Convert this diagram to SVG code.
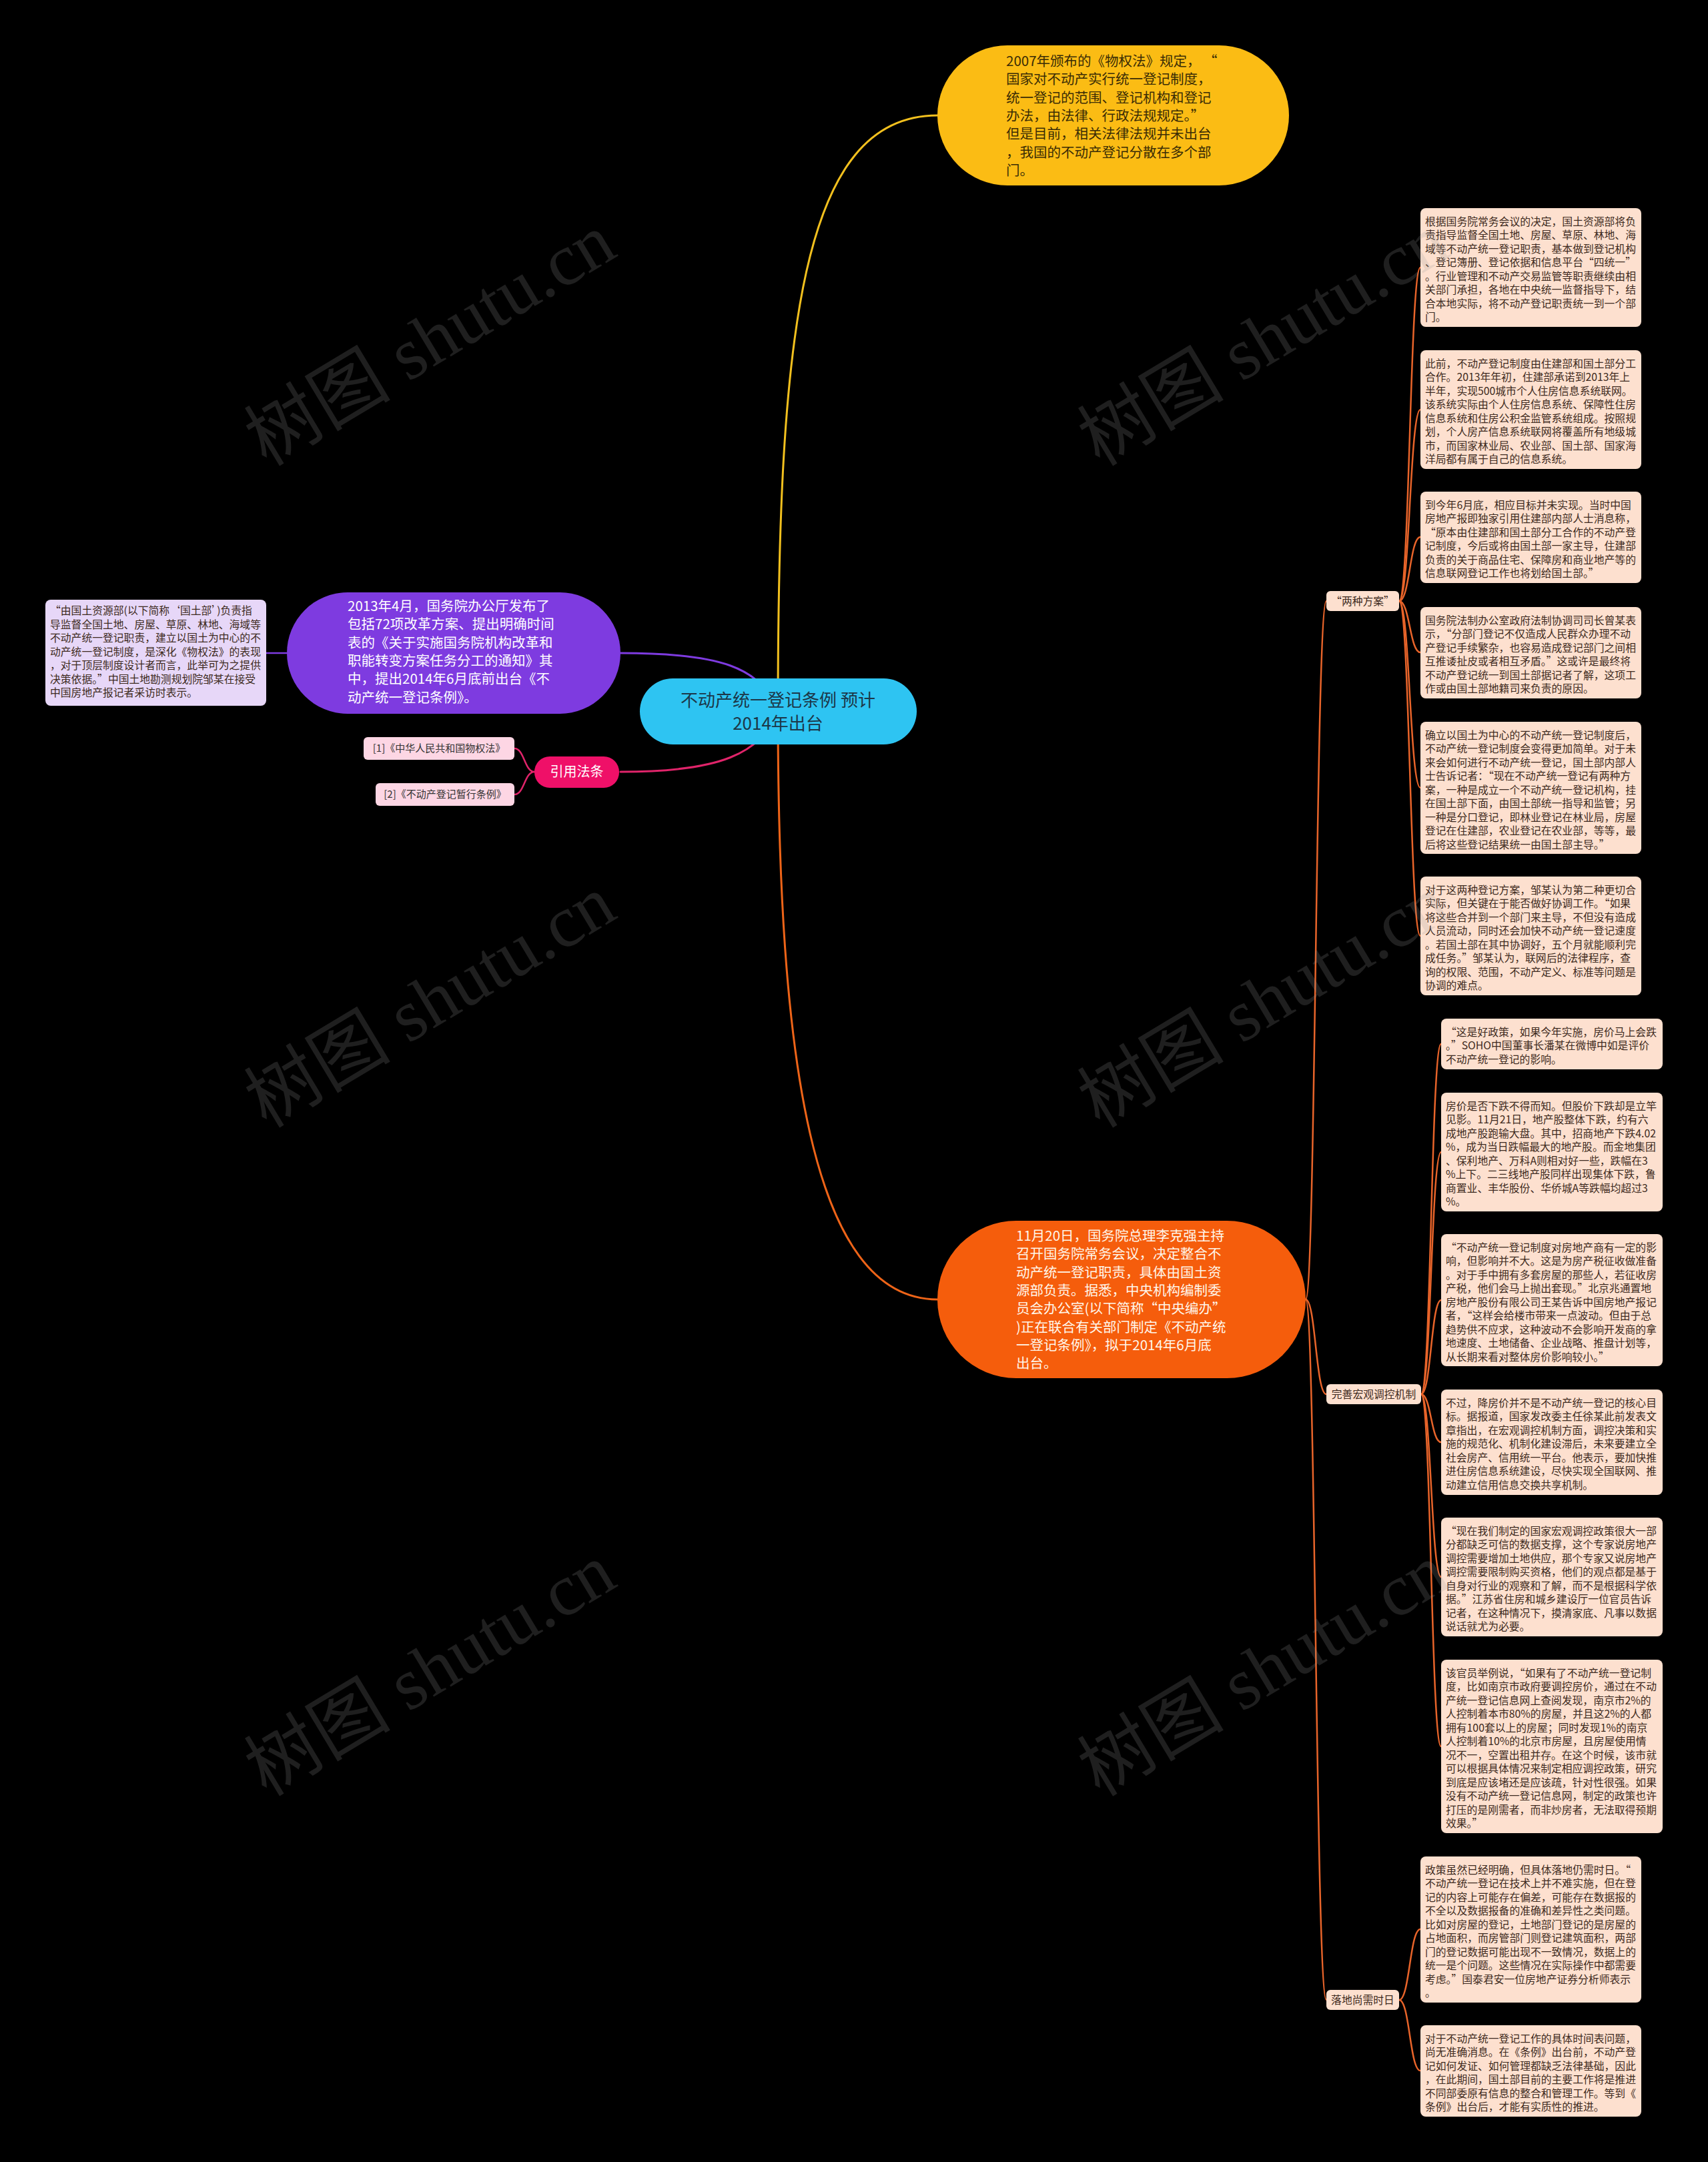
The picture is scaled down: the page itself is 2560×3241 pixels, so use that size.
<svg xmlns="http://www.w3.org/2000/svg" width="2560" height="3241" viewBox="0 0 2560 3241">
<style>
.cjk{font-family:"Noto Sans CJK SC","Noto Sans",sans-serif;}
.nt{font-family:"Noto Sans CJK SC","Noto Sans",sans-serif;font-size:15.8px;fill:#3d2a20;}
.note{fill:#fde0cf;}
.big{font-family:"Noto Sans CJK SC","Noto Sans",sans-serif;font-size:20.5px;}
.wm{font-family:"Liberation Serif","Noto Sans CJK SC",serif;font-size:110px;fill:#9a9a9a;fill-opacity:0.2;}
.c{fill:none;stroke-linecap:round;}
.co{stroke:#e8642a;stroke-width:2.5;}
</style>
<rect x="0" y="0" width="2560" height="3241" fill="#000000"/>

<g id="connectors">
<path class="c" d="M1166 1066 C1166 500,1200 173,1405 173" stroke="#f2c01e" stroke-width="3"/>
<path class="c" d="M1166 1066 C1166 1580,1215 1948,1405 1948" stroke="#ee6418" stroke-width="3"/>
<path class="c" d="M930 979 C1080 979,1140 1000,1166 1066" stroke="#7e3be0" stroke-width="3"/>
<path class="c" d="M930 1157 C1080 1157,1140 1130,1166 1066" stroke="#e0246a" stroke-width="3"/>
<path class="c" d="M399 979 L430 979" stroke="#7e3be0" stroke-width="2.5"/>
<path class="c" d="M801 1157 C786 1157,786 1122,771 1122" stroke="#e0246a" stroke-width="2.5"/>
<path class="c" d="M801 1157 C786 1157,786 1191,771 1191" stroke="#e0246a" stroke-width="2.5"/>
<path class="c co" d="M1957 1948 C1972 1948,1972 901,1988 901"/>
<path class="c co" d="M1957 1948 C1972 1948,1972 2090,1988 2090"/>
<path class="c co" d="M1957 1948 C1972 1948,1972 2998,1988 2998"/>
<path class="c co" d="M2097 901 C2113 901,2113 401,2129 401"/>
<path class="c co" d="M2097 901 C2113 901,2113 614,2129 614"/>
<path class="c co" d="M2097 901 C2113 901,2113 805,2129 805"/>
<path class="c co" d="M2097 901 C2113 901,2113 978,2129 978"/>
<path class="c co" d="M2097 901 C2113 901,2113 1181,2129 1181"/>
<path class="c co" d="M2097 901 C2113 901,2113 1403,2129 1403"/>
<path class="c co" d="M2130 2090 C2145 2090,2145 1565,2160 1565"/>
<path class="c co" d="M2130 2090 C2145 2090,2145 1727,2160 1727"/>
<path class="c co" d="M2130 2090 C2145 2090,2145 1949,2160 1949"/>
<path class="c co" d="M2130 2090 C2145 2090,2145 2162,2160 2162"/>
<path class="c co" d="M2130 2090 C2145 2090,2145 2364,2160 2364"/>
<path class="c co" d="M2130 2090 C2145 2090,2145 2618,2160 2618"/>
<path class="c co" d="M2097 2998 C2113 2998,2113 2892,2129 2892"/>
<path class="c co" d="M2097 2998 C2113 2998,2113 3104,2129 3104"/>
</g>

<g id="node-center">
<rect x="959" y="1017" width="415" height="99" rx="49.5" fill="#2ec4f2"/>
<text class="cjk" x="1166" y="1059" font-size="26" fill="#1c3748" text-anchor="middle">不动产统一登记条例 预计</text>
<text class="cjk" x="1166" y="1094" font-size="26" fill="#1c3748" text-anchor="middle">2014年出台</text>
</g>

<g id="node-yellow">
<rect x="1405" y="68" width="527" height="210" rx="105" fill="#fbbc14"/>
<text class="big" fill="#3a2c05" x="1508" y="99">
<tspan x="1508">2007年颁布的《物权法》规定，  “</tspan>
<tspan x="1508" dy="27.3">国家对不动产实行统一登记制度，</tspan>
<tspan x="1508" dy="27.3">统一登记的范围、登记机构和登记</tspan>
<tspan x="1508" dy="27.3">办法，由法律、行政法规规定。”</tspan>
<tspan x="1508" dy="27.3">但是目前，相关法律法规并未出台</tspan>
<tspan x="1508" dy="27.3">，我国的不动产登记分散在多个部</tspan>
<tspan x="1508" dy="27.3">门。</tspan>
</text>
</g>

<g id="node-purple">
<rect x="430" y="888" width="500" height="182" rx="91" fill="#7e3be0"/>
<text class="big" fill="#ffffff" x="521" y="916">
<tspan x="521">2013年4月，国务院办公厅发布了</tspan>
<tspan x="521" dy="27.3">包括72项改革方案、提出明确时间</tspan>
<tspan x="521" dy="27.3">表的《关于实施国务院机构改革和</tspan>
<tspan x="521" dy="27.3">职能转变方案任务分工的通知》其</tspan>
<tspan x="521" dy="27.3">中，提出2014年6月底前出台《不</tspan>
<tspan x="521" dy="27.3">动产统一登记条例》。</tspan>
</text>
</g>

<g id="node-left-note">
<rect x="68" y="899" width="331" height="159" rx="8" fill="#e7d7f8"/>
<text class="nt" x="75" y="921">
<tspan x="75">“由国土资源部(以下简称‘国土部’)负责指</tspan>
<tspan x="75" dy="20.5">导监督全国土地、房屋、草原、林地、海域等</tspan>
<tspan x="75" dy="20.5">不动产统一登记职责，建立以国土为中心的不</tspan>
<tspan x="75" dy="20.5">动产统一登记制度，是深化《物权法》的表现</tspan>
<tspan x="75" dy="20.5">，对于顶层制度设计者而言，此举可为之提供</tspan>
<tspan x="75" dy="20.5">决策依据。”中国土地勘测规划院邹某在接受</tspan>
<tspan x="75" dy="20.5">中国房地产报记者采访时表示。</tspan>
</text>
</g>

<g id="node-cite">
<rect x="801" y="1134" width="127" height="47" rx="23" fill="#ef1068"/>
<text class="cjk" x="864.5" y="1164" font-size="20" fill="#ffffff" text-anchor="middle">引用法条</text>
</g>
<g id="node-cite-1">
<rect x="545" y="1105" width="226" height="34" rx="6" fill="#fdd6e4"/>
<text class="cjk" x="658" y="1127" font-size="15" fill="#333333" text-anchor="middle">[1]《中华人民共和国物权法》</text>
</g>
<g id="node-cite-2">
<rect x="563" y="1174" width="208" height="34" rx="6" fill="#fdd6e4"/>
<text class="cjk" x="667" y="1196" font-size="15" fill="#333333" text-anchor="middle">[2]《不动产登记暂行条例》</text>
</g>

<g id="node-orange">
<rect x="1405" y="1830" width="552" height="236" rx="118" fill="#f55d0c"/>
<text class="big" fill="#fff6ea" x="1523" y="1860">
<tspan x="1523">11月20日，国务院总理李克强主持</tspan>
<tspan x="1523" dy="27.3">召开国务院常务会议，决定整合不</tspan>
<tspan x="1523" dy="27.3">动产统一登记职责，具体由国土资</tspan>
<tspan x="1523" dy="27.3">源部负责。据悉，中央机构编制委</tspan>
<tspan x="1523" dy="27.3">员会办公室(以下简称“中央编办”</tspan>
<tspan x="1523" dy="27.3">)正在联合有关部门制定《不动产统</tspan>
<tspan x="1523" dy="27.3">一登记条例》，拟于2014年6月底</tspan>
<tspan x="1523" dy="27.3">出台。</tspan>
</text>
</g>

<g id="label-1">
<rect class="note" x="1988" y="886" width="109" height="30" rx="6"/>
<text class="nt" x="2042.5" y="906.5" text-anchor="middle">“两种方案”</text>
</g>
<g id="label-2">
<rect class="note" x="1988" y="2075" width="142" height="30" rx="6"/>
<text class="nt" x="2059" y="2095.5" text-anchor="middle">完善宏观调控机制</text>
</g>
<g id="label-3">
<rect class="note" x="1988" y="2983" width="109" height="30" rx="6"/>
<text class="nt" x="2042.5" y="3003.5" text-anchor="middle">落地尚需时日</text>
</g>

<g id="note-1-1">
<rect class="note" x="2129" y="312" width="331" height="178" rx="8"/>
<text class="nt" x="2136" y="337.5">
<tspan x="2136">根据国务院常务会议的决定，国土资源部将负</tspan>
<tspan x="2136" dy="20.5">责指导监督全国土地、房屋、草原、林地、海</tspan>
<tspan x="2136" dy="20.5">域等不动产统一登记职责，基本做到登记机构</tspan>
<tspan x="2136" dy="20.5">、登记簿册、登记依据和信息平台“四统一”</tspan>
<tspan x="2136" dy="20.5">。行业管理和不动产交易监管等职责继续由相</tspan>
<tspan x="2136" dy="20.5">关部门承担，各地在中央统一监督指导下，结</tspan>
<tspan x="2136" dy="20.5">合本地实际，将不动产登记职责统一到一个部</tspan>
<tspan x="2136" dy="20.5">门。</tspan>
</text>
</g>
<g id="note-1-2">
<rect class="note" x="2129" y="525" width="331" height="178" rx="8"/>
<text class="nt" x="2136" y="550.5">
<tspan x="2136">此前，不动产登记制度由住建部和国土部分工</tspan>
<tspan x="2136" dy="20.5">合作。2013年年初，住建部承诺到2013年上</tspan>
<tspan x="2136" dy="20.5">半年，实现500城市个人住房信息系统联网。</tspan>
<tspan x="2136" dy="20.5">该系统实际由个人住房信息系统、保障性住房</tspan>
<tspan x="2136" dy="20.5">信息系统和住房公积金监管系统组成。按照规</tspan>
<tspan x="2136" dy="20.5">划，个人房产信息系统联网将覆盖所有地级城</tspan>
<tspan x="2136" dy="20.5">市，而国家林业局、农业部、国土部、国家海</tspan>
<tspan x="2136" dy="20.5">洋局都有属于自己的信息系统。</tspan>
</text>
</g>
<g id="note-1-3">
<rect class="note" x="2129" y="737" width="331" height="137" rx="8"/>
<text class="nt" x="2136" y="762.5">
<tspan x="2136">到今年6月底，相应目标并未实现。当时中国</tspan>
<tspan x="2136" dy="20.5">房地产报即独家引用住建部内部人士消息称，</tspan>
<tspan x="2136" dy="20.5">“原本由住建部和国土部分工合作的不动产登</tspan>
<tspan x="2136" dy="20.5">记制度，今后或将由国土部一家主导，住建部</tspan>
<tspan x="2136" dy="20.5">负责的关于商品住宅、保障房和商业地产等的</tspan>
<tspan x="2136" dy="20.5">信息联网登记工作也将划给国土部。”</tspan>
</text>
</g>
<g id="note-1-4">
<rect class="note" x="2129" y="910" width="331" height="137" rx="8"/>
<text class="nt" x="2136" y="935.5">
<tspan x="2136">国务院法制办公室政府法制协调司司长曾某表</tspan>
<tspan x="2136" dy="20.5">示，“分部门登记不仅造成人民群众办理不动</tspan>
<tspan x="2136" dy="20.5">产登记手续繁杂，也容易造成登记部门之间相</tspan>
<tspan x="2136" dy="20.5">互推诿扯皮或者相互矛盾。”这或许是最终将</tspan>
<tspan x="2136" dy="20.5">不动产登记统一到国土部据记者了解，这项工</tspan>
<tspan x="2136" dy="20.5">作或由国土部地籍司来负责的原因。</tspan>
</text>
</g>
<g id="note-1-5">
<rect class="note" x="2129" y="1082" width="331" height="198" rx="8"/>
<text class="nt" x="2136" y="1107.5">
<tspan x="2136">确立以国土为中心的不动产统一登记制度后，</tspan>
<tspan x="2136" dy="20.5">不动产统一登记制度会变得更加简单。对于未</tspan>
<tspan x="2136" dy="20.5">来会如何进行不动产统一登记，国土部内部人</tspan>
<tspan x="2136" dy="20.5">士告诉记者：“现在不动产统一登记有两种方</tspan>
<tspan x="2136" dy="20.5">案，一种是成立一个不动产统一登记机构，挂</tspan>
<tspan x="2136" dy="20.5">在国土部下面，由国土部统一指导和监管；另</tspan>
<tspan x="2136" dy="20.5">一种是分口登记，即林业登记在林业局，房屋</tspan>
<tspan x="2136" dy="20.5">登记在住建部，农业登记在农业部，等等，最</tspan>
<tspan x="2136" dy="20.5">后将这些登记结果统一由国土部主导。”</tspan>
</text>
</g>
<g id="note-1-6">
<rect class="note" x="2129" y="1314" width="331" height="178" rx="8"/>
<text class="nt" x="2136" y="1339.5">
<tspan x="2136">对于这两种登记方案，邹某认为第二种更切合</tspan>
<tspan x="2136" dy="20.5">实际，但关键在于能否做好协调工作。“如果</tspan>
<tspan x="2136" dy="20.5">将这些合并到一个部门来主导，不但没有造成</tspan>
<tspan x="2136" dy="20.5">人员流动，同时还会加快不动产统一登记速度</tspan>
<tspan x="2136" dy="20.5">。若国土部在其中协调好，五个月就能顺利完</tspan>
<tspan x="2136" dy="20.5">成任务。”邹某认为，联网后的法律程序，查</tspan>
<tspan x="2136" dy="20.5">询的权限、范围，不动产定义、标准等问题是</tspan>
<tspan x="2136" dy="20.5">协调的难点。</tspan>
</text>
</g>

<g id="note-2-1">
<rect class="note" x="2160" y="1527" width="332" height="76" rx="8"/>
<text class="nt" x="2167" y="1552.5">
<tspan x="2167">“这是好政策，如果今年实施，房价马上会跌</tspan>
<tspan x="2167" dy="20.5">。”SOHO中国董事长潘某在微博中如是评价</tspan>
<tspan x="2167" dy="20.5">不动产统一登记的影响。</tspan>
</text>
</g>
<g id="note-2-2">
<rect class="note" x="2160" y="1638" width="332" height="178" rx="8"/>
<text class="nt" x="2167" y="1663.5">
<tspan x="2167">房价是否下跌不得而知。但股价下跌却是立竿</tspan>
<tspan x="2167" dy="20.5">见影。11月21日，地产股整体下跌，约有六</tspan>
<tspan x="2167" dy="20.5">成地产股跑输大盘。其中，招商地产下跌4.02</tspan>
<tspan x="2167" dy="20.5">%，成为当日跌幅最大的地产股。而金地集团</tspan>
<tspan x="2167" dy="20.5">、保利地产、万科A则相对好一些，跌幅在3</tspan>
<tspan x="2167" dy="20.5">%上下。二三线地产股同样出现集体下跌，鲁</tspan>
<tspan x="2167" dy="20.5">商置业、丰华股份、华侨城A等跌幅均超过3</tspan>
<tspan x="2167" dy="20.5">%。</tspan>
</text>
</g>
<g id="note-2-3">
<rect class="note" x="2160" y="1850" width="332" height="198" rx="8"/>
<text class="nt" x="2167" y="1875.5">
<tspan x="2167">“不动产统一登记制度对房地产商有一定的影</tspan>
<tspan x="2167" dy="20.5">响，但影响并不大。这是为房产税征收做准备</tspan>
<tspan x="2167" dy="20.5">。对于手中拥有多套房屋的那些人，若征收房</tspan>
<tspan x="2167" dy="20.5">产税，他们会马上抛出套现。”北京兆通置地</tspan>
<tspan x="2167" dy="20.5">房地产股份有限公司王某告诉中国房地产报记</tspan>
<tspan x="2167" dy="20.5">者，“这样会给楼市带来一点波动。但由于总</tspan>
<tspan x="2167" dy="20.5">趋势供不应求，这种波动不会影响开发商的拿</tspan>
<tspan x="2167" dy="20.5">地速度、土地储备、企业战略、推盘计划等，</tspan>
<tspan x="2167" dy="20.5">从长期来看对整体房价影响较小。”</tspan>
</text>
</g>
<g id="note-2-4">
<rect class="note" x="2160" y="2083" width="332" height="158" rx="8"/>
<text class="nt" x="2167" y="2108.5">
<tspan x="2167">不过，降房价并不是不动产统一登记的核心目</tspan>
<tspan x="2167" dy="20.5">标。据报道，国家发改委主任徐某此前发表文</tspan>
<tspan x="2167" dy="20.5">章指出，在宏观调控机制方面，调控决策和实</tspan>
<tspan x="2167" dy="20.5">施的规范化、机制化建设滞后，未来要建立全</tspan>
<tspan x="2167" dy="20.5">社会房产、信用统一平台。他表示，要加快推</tspan>
<tspan x="2167" dy="20.5">进住房信息系统建设，尽快实现全国联网、推</tspan>
<tspan x="2167" dy="20.5">动建立信用信息交换共享机制。</tspan>
</text>
</g>
<g id="note-2-5">
<rect class="note" x="2160" y="2275" width="332" height="178" rx="8"/>
<text class="nt" x="2167" y="2300.5">
<tspan x="2167">“现在我们制定的国家宏观调控政策很大一部</tspan>
<tspan x="2167" dy="20.5">分都缺乏可信的数据支撑，这个专家说房地产</tspan>
<tspan x="2167" dy="20.5">调控需要增加土地供应，那个专家又说房地产</tspan>
<tspan x="2167" dy="20.5">调控需要限制购买资格，他们的观点都是基于</tspan>
<tspan x="2167" dy="20.5">自身对行业的观察和了解，而不是根据科学依</tspan>
<tspan x="2167" dy="20.5">据。”江苏省住房和城乡建设厅一位官员告诉</tspan>
<tspan x="2167" dy="20.5">记者，在这种情况下，摸清家底、凡事以数据</tspan>
<tspan x="2167" dy="20.5">说话就尤为必要。</tspan>
</text>
</g>
<g id="note-2-6">
<rect class="note" x="2160" y="2488" width="332" height="260" rx="8"/>
<text class="nt" x="2167" y="2513.5">
<tspan x="2167">该官员举例说，“如果有了不动产统一登记制</tspan>
<tspan x="2167" dy="20.5">度，比如南京市政府要调控房价，通过在不动</tspan>
<tspan x="2167" dy="20.5">产统一登记信息网上查阅发现，南京市2%的</tspan>
<tspan x="2167" dy="20.5">人控制着本市80%的房屋，并且这2%的人都</tspan>
<tspan x="2167" dy="20.5">拥有100套以上的房屋；同时发现1%的南京</tspan>
<tspan x="2167" dy="20.5">人控制着10%的北京市房屋，且房屋使用情</tspan>
<tspan x="2167" dy="20.5">况不一，空置出租并存。在这个时候，该市就</tspan>
<tspan x="2167" dy="20.5">可以根据具体情况来制定相应调控政策，研究</tspan>
<tspan x="2167" dy="20.5">到底是应该堵还是应该疏，针对性很强。如果</tspan>
<tspan x="2167" dy="20.5">没有不动产统一登记信息网，制定的政策也许</tspan>
<tspan x="2167" dy="20.5">打压的是刚需者，而非炒房者，无法取得预期</tspan>
<tspan x="2167" dy="20.5">效果。”</tspan>
</text>
</g>

<g id="note-3-1">
<rect class="note" x="2129" y="2783" width="331" height="219" rx="8"/>
<text class="nt" x="2136" y="2808.5">
<tspan x="2136">政策虽然已经明确，但具体落地仍需时日。“</tspan>
<tspan x="2136" dy="20.5">不动产统一登记在技术上并不难实施，但在登</tspan>
<tspan x="2136" dy="20.5">记的内容上可能存在偏差，可能存在数据报的</tspan>
<tspan x="2136" dy="20.5">不全以及数据报备的准确和差异性之类问题。</tspan>
<tspan x="2136" dy="20.5">比如对房屋的登记，土地部门登记的是房屋的</tspan>
<tspan x="2136" dy="20.5">占地面积，而房管部门则登记建筑面积，两部</tspan>
<tspan x="2136" dy="20.5">门的登记数据可能出现不一致情况，数据上的</tspan>
<tspan x="2136" dy="20.5">统一是个问题。这些情况在实际操作中都需要</tspan>
<tspan x="2136" dy="20.5">考虑。”国泰君安一位房地产证券分析师表示</tspan>
<tspan x="2136" dy="20.5">。</tspan>
</text>
</g>
<g id="note-3-2">
<rect class="note" x="2129" y="3036" width="331" height="137" rx="8"/>
<text class="nt" x="2136" y="3061.5">
<tspan x="2136">对于不动产统一登记工作的具体时间表问题，</tspan>
<tspan x="2136" dy="20.5">尚无准确消息。在《条例》出台前，不动产登</tspan>
<tspan x="2136" dy="20.5">记如何发证、如何管理都缺乏法律基础，因此</tspan>
<tspan x="2136" dy="20.5">，在此期间，国土部目前的主要工作将是推进</tspan>
<tspan x="2136" dy="20.5">不同部委原有信息的整合和管理工作。等到《</tspan>
<tspan x="2136" dy="20.5">条例》出台后，才能有实质性的推进。</tspan>
</text>
</g>

<g id="watermarks">
<text class="wm" x="651" y="545" text-anchor="middle" transform="rotate(-31 651 520)">树图 shutu.cn</text>
<text class="wm" x="1900" y="545" text-anchor="middle" transform="rotate(-31 1900 520)">树图 shutu.cn</text>
<text class="wm" x="651" y="1537" text-anchor="middle" transform="rotate(-31 651 1512)">树图 shutu.cn</text>
<text class="wm" x="1900" y="1537" text-anchor="middle" transform="rotate(-31 1900 1512)">树图 shutu.cn</text>
<text class="wm" x="651" y="2539" text-anchor="middle" transform="rotate(-31 651 2514)">树图 shutu.cn</text>
<text class="wm" x="1900" y="2539" text-anchor="middle" transform="rotate(-31 1900 2514)">树图 shutu.cn</text>
</g>
</svg>
